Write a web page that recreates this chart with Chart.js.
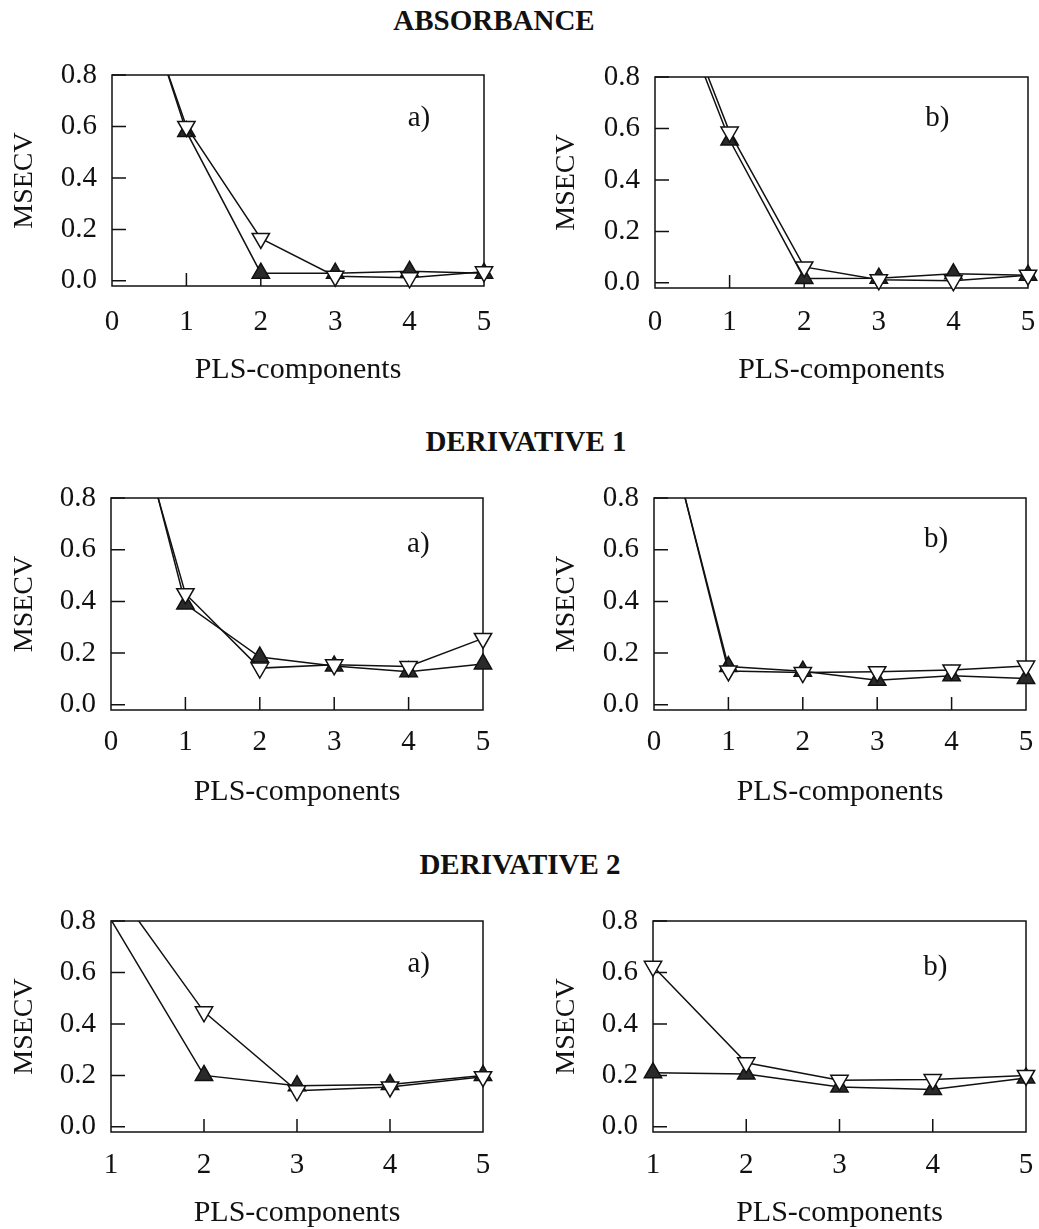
<!DOCTYPE html>
<html>
<head>
<meta charset="utf-8">
<script src="https://cdn.jsdelivr.net/npm/chart.js@4.4.1/dist/chart.umd.min.js"></script>
<style>
  html, body { margin: 0; padding: 0; background: #fff; overflow: hidden; }
  body { width: 1039px; height: 1229px; position: relative; }
  canvas { position: absolute; }
  .head {
    position: absolute; z-index: 2; white-space: nowrap; color: #111;
    font: bold 29px "Liberation Serif", "Times New Roman", serif; line-height: 29px;
    transform: translateX(-50%);
  }
</style>
</head>
<body>
<canvas id="p1"></canvas><canvas id="p2"></canvas>
<canvas id="p3"></canvas><canvas id="p4"></canvas>
<canvas id="p5"></canvas><canvas id="p6"></canvas>
<div class="head" style="left:494px; top:6px">ABSORBANCE</div>
<div class="head" style="left:526px; top:427px">DERIVATIVE 1</div>
<div class="head" style="left:520px; top:850px">DERIVATIVE 2</div>
<script>
// ── Data ────────────────────────────────────────────────────────────────────
// x = number of PLS components; values above 0.8 run off the top of the plot

const compsA = [0, 1, 2, 3, 4, 5];   // absorbance, derivative 1
const compsB = [1, 2, 3, 4, 5];      // derivative 2

const xTicksA = [0, 1, 2, 3, 4, 5];
const xTicksB = [1, 2, 3, 4, 5];
const yTicks  = [0, 0.2, 0.4, 0.6, 0.8];

const absAFilled = [1.47, 0.58, 0.03, 0.03, 0.037, 0.03];
const absAOpen   = [1.43, 0.60, 0.165, 0.018, 0.012, 0.035];
const absBFilled = [1.30, 0.555, 0.017, 0.018, 0.035, 0.03];
const absBOpen   = [1.33, 0.586, 0.062, 0.012, 0.008, 0.03];

const d1AFilled  = [1.51, 0.39, 0.185, 0.15, 0.128, 0.158];
const d1AOpen    = [1.44, 0.43, 0.142, 0.155, 0.148, 0.257];
const d1BFilled  = [1.27, 0.148, 0.13, 0.095, 0.112, 0.102];
const d1BOpen    = [1.28, 0.131, 0.125, 0.128, 0.135, 0.15];

const d2AFilled  = [0.805, 0.2, 0.16, 0.165, 0.2];
const d2AOpen    = [0.95, 0.447, 0.14, 0.155, 0.195];
const d2BFilled  = [0.21, 0.205, 0.155, 0.145, 0.19];
const d2BOpen    = [0.624, 0.249, 0.181, 0.184, 0.2];

// ── Panel layout ────────────────────────────────────────────────────────────
// canvas: [left, top, width, height], area: [left, top, right, bottom] of plot box
// right-hand canvases run past the window edge so the last tick label fits

const panels = [
  { id: "p1", x: compsA, ticks: xTicksA, filled: absAFilled, open: absAOpen, tag: "a)", tagAt: [0.825, 0.205],
    canvas: [0, 40, 520, 346], area: [112, 75, 484, 286], tickPad: 19 },
  { id: "p2", x: compsA, ticks: xTicksA, filled: absBFilled, open: absBOpen, tag: "b)", tagAt: [0.757, 0.196],
    canvas: [542, 40, 540, 346], area: [655, 77, 1028, 288], tickPad: 17 },
  { id: "p3", x: compsA, ticks: xTicksA, filled: d1AFilled, open: d1AOpen, tag: "a)", tagAt: [0.826, 0.218],
    canvas: [0, 460, 520, 348], area: [111, 498, 483, 710], tickPad: 15 },
  { id: "p4", x: compsA, ticks: xTicksA, filled: d1BFilled, open: d1BOpen, tag: "b)", tagAt: [0.758, 0.197],
    canvas: [542, 460, 540, 348], area: [654, 498, 1026, 710], tickPad: 15 },
  { id: "p5", x: compsB, ticks: xTicksB, filled: d2AFilled, open: d2AOpen, tag: "a)", tagAt: [0.827, 0.205],
    canvas: [0, 880, 520, 349], area: [111, 921, 483, 1132], tickPad: 16 },
  { id: "p6", x: compsB, ticks: xTicksB, filled: d2BFilled, open: d2BOpen, tag: "b)", tagAt: [0.757, 0.218],
    canvas: [542, 880, 540, 349], area: [653, 921, 1026, 1132], tickPad: 16 },
];

// ── Frame, inward ticks and panel tag ───────────────────────────────────────

const frame = {
  id: "frame",
  beforeDatasetsDraw(chart) {
    const { ctx, chartArea: a, scales: { x, y } } = chart;
    ctx.save();
    ctx.strokeStyle = "#111";
    ctx.lineWidth = 1.5;
    ctx.strokeRect(a.left, a.top, a.right - a.left, a.bottom - a.top);
    ctx.beginPath();
    x.ticks.forEach(t => {
      if (t.value <= x.min || t.value >= x.max) return;
      const px = x.getPixelForValue(t.value);
      ctx.moveTo(px, a.bottom);
      ctx.lineTo(px, a.bottom - 13);
    });
    y.ticks.forEach(t => {
      const py = y.getPixelForValue(t.value);
      ctx.moveTo(a.left, py);
      ctx.lineTo(a.left + 14, py);
    });
    ctx.stroke();
    ctx.restore();
  },
  afterDraw(chart, args, opts) {
    const { ctx, chartArea: a } = chart;
    ctx.save();
    ctx.fillStyle = "#111";
    ctx.font = '29px "Liberation Serif", serif';
    ctx.textAlign = "center";
    ctx.textBaseline = "middle";
    ctx.fillText(opts.tag, a.left + opts.at[0] * (a.right - a.left), a.top + opts.at[1] * (a.bottom - a.top));
    ctx.restore();
  }
};

const serif = { family: '"Liberation Serif", "Times New Roman", serif', size: 28 };
const hideOffTop = ctx => (ctx.parsed && ctx.parsed.y > 0.8 ? 0 : 10);

function mkPanel(p) {
  const [cx, cy, cw, ch] = p.canvas;
  const [L, T, R, B] = p.area;
  const el = document.getElementById(p.id);
  el.width = cw; el.height = ch;
  el.style.left = cx + "px"; el.style.top = cy + "px";

  const pts = vals => p.x.map((x, i) => ({ x, y: vals[i] }));
  const common = {
    borderColor: "#111", borderWidth: 1.5, tension: 0,
    pointStyle: "triangle", pointRadius: hideOffTop, pointBorderWidth: 1.5,
    pointBorderColor: "#111",
    clip: { left: 15, top: 0, right: 15, bottom: 15 }
  };

  new Chart(el, {
    type: "line",
    data: {
      datasets: [
        // dataset 0 is drawn last, so open triangles sit on top
        { ...common, label: "open", data: pts(p.open), pointBackgroundColor: "#fff", pointRotation: 180 },
        { ...common, label: "filled", data: pts(p.filled), pointBackgroundColor: "#2a2a2a" }
      ]
    },
    options: {
      responsive: false,
      animation: false,
      events: [],
      layout: { padding: { left: 0, top: T - cy, right: cx + cw - R, bottom: 0 } },
      plugins: {
        legend: { display: false },
        tooltip: { enabled: false },
        frame: { tag: p.tag, at: p.tagAt }
      },
      scales: {
        x: {
          type: "linear", min: p.x[0], max: 5,
          afterBuildTicks: s => { s.ticks = p.ticks.map(v => ({ value: v })); },
          afterFit: s => { s.height = cy + ch - B; },
          grid: { display: false, drawTicks: false },
          border: { display: false },
          ticks: { color: "#111", font: { ...serif, size: 29 }, padding: p.tickPad, maxRotation: 0, autoSkip: false, callback: v => String(v) },
          title: { display: true, text: "PLS-components", color: "#111",
                   font: { ...serif, size: 30, lineHeight: 1 }, padding: { top: 0, bottom: 1 } }
        },
        y: {
          type: "linear", min: -0.02, max: 0.8,
          afterBuildTicks: s => { s.ticks = yTicks.map(v => ({ value: v })); },
          afterFit: s => { s.width = L - cx; },
          grid: { display: false, drawTicks: false },
          border: { display: false },
          ticks: { color: "#111", font: { ...serif, size: 29 }, padding: 15, callback: v => Number(v).toFixed(1) },
          title: { display: true, text: "MSECV", color: "#111",
                   font: { ...serif, lineHeight: 1 }, padding: { top: 11, bottom: 0 } }
        }
      }
    },
    plugins: [frame]
  });
}

panels.forEach(mkPanel);
</script>
</body>
</html>
